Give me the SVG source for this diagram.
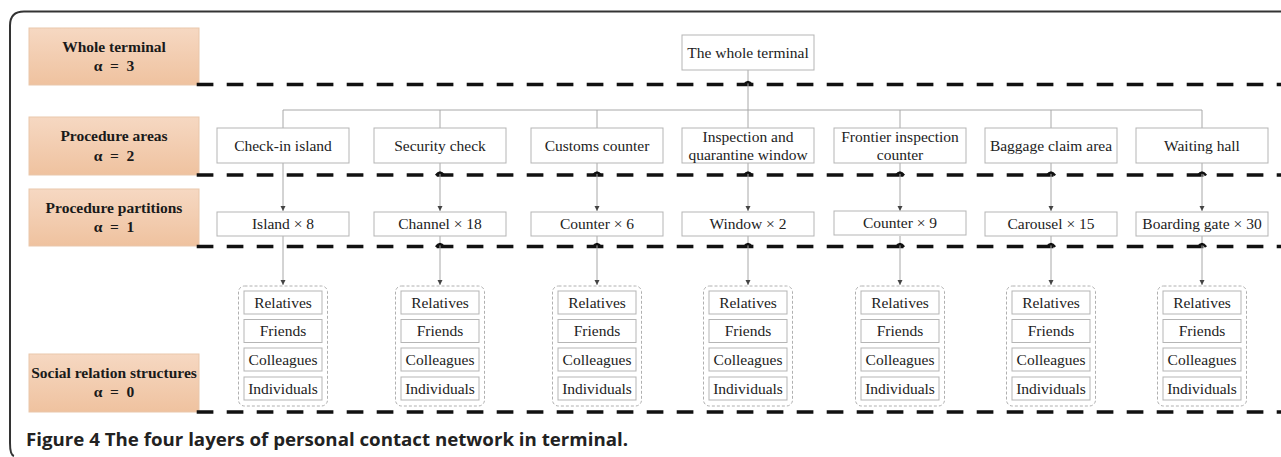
<svg xmlns="http://www.w3.org/2000/svg" width="1281" height="457" viewBox="0 0 1281 457">
  <defs>
    <linearGradient id="layerFill" x1="0" y1="0" x2="0" y2="1">
      <stop offset="0" stop-color="#f6d8c2"/>
      <stop offset="1" stop-color="#efc29f"/>
    </linearGradient>
    <marker id="arrow" markerWidth="6" markerHeight="6" refX="5" refY="3" orient="auto" markerUnits="userSpaceOnUse">
      <path d="M0,0.5 L5,3 L0,5.5 Z" fill="#444"/>
    </marker>
    <style>
      .frame { fill: none; stroke: #333; stroke-width: 2; }
      .layer { fill: url(#layerFill); stroke: #e9c7ab; stroke-width: 1; }
      .layer-text { font-family: "Liberation Serif", "Times New Roman", serif; font-weight: bold; font-size: 15.5px; fill: #1a1a1a; text-anchor: middle; }
      .divider { stroke: #111; stroke-width: 3.5; stroke-dasharray: 16.7 13.3; fill: none; }
      .hop { stroke: #111; stroke-width: 2.5; fill: none; }
      .node { fill: #fff; stroke: #b5b5b5; stroke-width: 1; }
      .node-text { font-family: "Liberation Serif", "Times New Roman", serif; font-size: 15.5px; fill: #222; text-anchor: middle; }
      .group { fill: #fff; stroke: #b0b0b0; stroke-width: 1; stroke-dasharray: 3 2; }
      .item { fill: #fff; stroke: #b5b5b5; stroke-width: 1; }
      .item-text { font-family: "Liberation Serif", "Times New Roman", serif; font-size: 15.5px; fill: #222; text-anchor: middle; }
      .link { stroke: #a8a8a8; stroke-width: 1; fill: none; }
      .caption { font-family: "Open Sans", "Noto Sans", sans-serif; font-weight: bold; font-size: 17px; fill: #222; }
    </style>
  </defs>

  <rect width="1281" height="457" fill="#fff"/>

  <!-- outer frame (open on the right) -->
  <path class="frame" d="M1281,11.5 H24 Q10,11.5 10,25.5 V443 Q10,455 14,456"/>

  <!-- layer labels -->
  <g id="layer-3">
    <rect class="layer" x="29" y="28" width="170" height="57"/>
    <text class="layer-text" x="114" y="52">Whole terminal</text>
    <text class="layer-text" x="114" y="71">α &#160;= &#160;3</text>
  </g>
  <g id="layer-2">
    <rect class="layer" x="29" y="117" width="170" height="58"/>
    <text class="layer-text" x="114" y="141">Procedure areas</text>
    <text class="layer-text" x="114" y="161">α &#160;= &#160;2</text>
  </g>
  <g id="layer-1">
    <rect class="layer" x="29" y="189" width="170" height="57"/>
    <text class="layer-text" x="114" y="213">Procedure partitions</text>
    <text class="layer-text" x="114" y="232">α &#160;= &#160;1</text>
  </g>
  <g id="layer-0">
    <rect class="layer" x="29" y="354" width="170" height="58"/>
    <text class="layer-text" x="114" y="378">Social relation structures</text>
    <text class="layer-text" x="114" y="397">α &#160;= &#160;0</text>
  </g>

  <!-- layer dividers -->
  <g id="dividers">
    <line class="divider" x1="196.7" y1="84.5" x2="1281" y2="84.5"/>
    <line class="divider" x1="196.7" y1="175" x2="1281" y2="175"/>
    <line class="divider" x1="196.7" y1="246.5" x2="1281" y2="246.5"/>
    <line class="divider" x1="196.7" y1="412" x2="1281" y2="412"/>
  </g>

  <!-- connectors -->
  <g id="connectors">
    <path class="link" d="M748,70 V110"/>
    <path class="link" d="M283,128 V110 H1202 V128"/>
    <path class="link" d="M440,110 V128 M597,110 V128 M748,110 V128 M900,110 V128 M1051,110 V128"/>
    <path class="link" d="M283,163 V211" marker-end="url(#arrow)"/>
    <path class="link" d="M440,163 V211" marker-end="url(#arrow)"/>
    <path class="link" d="M597,163 V211" marker-end="url(#arrow)"/>
    <path class="link" d="M748,163 V211" marker-end="url(#arrow)"/>
    <path class="link" d="M900,163 V211" marker-end="url(#arrow)"/>
    <path class="link" d="M1051,163 V211" marker-end="url(#arrow)"/>
    <path class="link" d="M1202,163 V211" marker-end="url(#arrow)"/>
    <path class="link" d="M283,236 V285" marker-end="url(#arrow)"/>
    <path class="link" d="M440,236 V285" marker-end="url(#arrow)"/>
    <path class="link" d="M597,236 V285" marker-end="url(#arrow)"/>
    <path class="link" d="M748,236 V285" marker-end="url(#arrow)"/>
    <path class="link" d="M900,236 V285" marker-end="url(#arrow)"/>
    <path class="link" d="M1051,236 V285" marker-end="url(#arrow)"/>
    <path class="link" d="M1202,236 V285" marker-end="url(#arrow)"/>
    <!-- line jumps where connectors cross dividers -->
    <path class="hop" d="M744,85 Q748,79 752,85"/>
    <path class="hop" d="M436,175.5 Q440,169.5 444,175.5 M593,175.5 Q597,169.5 601,175.5 M744,175.5 Q748,169.5 752,175.5 M896,175.5 Q900,169.5 904,175.5 M1047,175.5 Q1051,169.5 1055,175.5 M1198,175.5 Q1202,169.5 1206,175.5"/>
    <path class="hop" d="M436,247 Q440,241 444,247 M593,247 Q597,241 601,247 M744,247 Q748,241 752,247 M896,247 Q900,241 904,247 M1047,247 Q1051,241 1055,247 M1198,247 Q1202,241 1206,247"/>
  </g>

  <!-- top node -->
  <g id="whole-terminal">
    <rect class="node" x="682" y="35" width="132" height="35"/>
    <text class="node-text" x="748" y="57.5">The whole terminal</text>
  </g>

  <!-- procedure areas -->
  <g id="area-checkin"><rect class="node" x="217" y="128" width="132" height="35"/><text class="node-text" x="283" y="150.5">Check-in island</text></g>
  <g id="area-security"><rect class="node" x="374" y="128" width="132" height="35"/><text class="node-text" x="440" y="150.5">Security check</text></g>
  <g id="area-customs"><rect class="node" x="531" y="128" width="132" height="35"/><text class="node-text" x="597" y="150.5">Customs counter</text></g>
  <g id="area-inspection"><rect class="node" x="682" y="128" width="132" height="35"/><text class="node-text" x="748" y="142">Inspection and</text><text class="node-text" x="748" y="159.5">quarantine window</text></g>
  <g id="area-frontier"><rect class="node" x="834" y="128" width="132" height="35"/><text class="node-text" x="900" y="142">Frontier inspection</text><text class="node-text" x="900" y="159.5">counter</text></g>
  <g id="area-baggage"><rect class="node" x="985" y="128" width="132" height="35"/><text class="node-text" x="1051" y="150.5">Baggage claim area</text></g>
  <g id="area-waiting"><rect class="node" x="1136" y="128" width="132" height="35"/><text class="node-text" x="1202" y="150.5">Waiting hall</text></g>

  <!-- procedure partitions -->
  <g id="part-island"><rect class="node" x="217" y="212" width="132" height="24"/><text class="node-text" x="283" y="229">Island × 8</text></g>
  <g id="part-channel"><rect class="node" x="374" y="212" width="132" height="24"/><text class="node-text" x="440" y="229">Channel × 18</text></g>
  <g id="part-counter6"><rect class="node" x="531" y="212" width="132" height="24"/><text class="node-text" x="597" y="229">Counter × 6</text></g>
  <g id="part-window"><rect class="node" x="682" y="212" width="132" height="24"/><text class="node-text" x="748" y="229">Window × 2</text></g>
  <g id="part-counter9"><rect class="node" x="834" y="211" width="132" height="24"/><text class="node-text" x="900" y="228">Counter × 9</text></g>
  <g id="part-carousel"><rect class="node" x="985" y="212" width="132" height="24"/><text class="node-text" x="1051" y="229">Carousel × 15</text></g>
  <g id="part-gate"><rect class="node" x="1136" y="212" width="132" height="24"/><text class="node-text" x="1202" y="229">Boarding gate × 30</text></g>

  <!-- social relation structures -->
  <g id="social-1" transform="translate(283,0)">
    <rect class="group" x="-44.5" y="286" width="89" height="120" rx="6"/>
    <rect class="item" x="-39" y="291" width="78" height="23"/><text class="item-text" x="0" y="307.5">Relatives</text>
    <rect class="item" x="-39" y="319.5" width="78" height="23"/><text class="item-text" x="0" y="336">Friends</text>
    <rect class="item" x="-39" y="348" width="78" height="23"/><text class="item-text" x="0" y="364.5">Colleagues</text>
    <rect class="item" x="-39" y="377" width="78" height="23"/><text class="item-text" x="0" y="393.5">Individuals</text>
  </g>
  <g id="social-2" transform="translate(440,0)">
    <rect class="group" x="-44.5" y="286" width="89" height="120" rx="6"/>
    <rect class="item" x="-39" y="291" width="78" height="23"/><text class="item-text" x="0" y="307.5">Relatives</text>
    <rect class="item" x="-39" y="319.5" width="78" height="23"/><text class="item-text" x="0" y="336">Friends</text>
    <rect class="item" x="-39" y="348" width="78" height="23"/><text class="item-text" x="0" y="364.5">Colleagues</text>
    <rect class="item" x="-39" y="377" width="78" height="23"/><text class="item-text" x="0" y="393.5">Individuals</text>
  </g>
  <g id="social-3" transform="translate(597,0)">
    <rect class="group" x="-44.5" y="286" width="89" height="120" rx="6"/>
    <rect class="item" x="-39" y="291" width="78" height="23"/><text class="item-text" x="0" y="307.5">Relatives</text>
    <rect class="item" x="-39" y="319.5" width="78" height="23"/><text class="item-text" x="0" y="336">Friends</text>
    <rect class="item" x="-39" y="348" width="78" height="23"/><text class="item-text" x="0" y="364.5">Colleagues</text>
    <rect class="item" x="-39" y="377" width="78" height="23"/><text class="item-text" x="0" y="393.5">Individuals</text>
  </g>
  <g id="social-4" transform="translate(748,0)">
    <rect class="group" x="-44.5" y="286" width="89" height="120" rx="6"/>
    <rect class="item" x="-39" y="291" width="78" height="23"/><text class="item-text" x="0" y="307.5">Relatives</text>
    <rect class="item" x="-39" y="319.5" width="78" height="23"/><text class="item-text" x="0" y="336">Friends</text>
    <rect class="item" x="-39" y="348" width="78" height="23"/><text class="item-text" x="0" y="364.5">Colleagues</text>
    <rect class="item" x="-39" y="377" width="78" height="23"/><text class="item-text" x="0" y="393.5">Individuals</text>
  </g>
  <g id="social-5" transform="translate(900,0)">
    <rect class="group" x="-44.5" y="286" width="89" height="120" rx="6"/>
    <rect class="item" x="-39" y="291" width="78" height="23"/><text class="item-text" x="0" y="307.5">Relatives</text>
    <rect class="item" x="-39" y="319.5" width="78" height="23"/><text class="item-text" x="0" y="336">Friends</text>
    <rect class="item" x="-39" y="348" width="78" height="23"/><text class="item-text" x="0" y="364.5">Colleagues</text>
    <rect class="item" x="-39" y="377" width="78" height="23"/><text class="item-text" x="0" y="393.5">Individuals</text>
  </g>
  <g id="social-6" transform="translate(1051,0)">
    <rect class="group" x="-44.5" y="286" width="89" height="120" rx="6"/>
    <rect class="item" x="-39" y="291" width="78" height="23"/><text class="item-text" x="0" y="307.5">Relatives</text>
    <rect class="item" x="-39" y="319.5" width="78" height="23"/><text class="item-text" x="0" y="336">Friends</text>
    <rect class="item" x="-39" y="348" width="78" height="23"/><text class="item-text" x="0" y="364.5">Colleagues</text>
    <rect class="item" x="-39" y="377" width="78" height="23"/><text class="item-text" x="0" y="393.5">Individuals</text>
  </g>
  <g id="social-7" transform="translate(1202,0)">
    <rect class="group" x="-44.5" y="286" width="89" height="120" rx="6"/>
    <rect class="item" x="-39" y="291" width="78" height="23"/><text class="item-text" x="0" y="307.5">Relatives</text>
    <rect class="item" x="-39" y="319.5" width="78" height="23"/><text class="item-text" x="0" y="336">Friends</text>
    <rect class="item" x="-39" y="348" width="78" height="23"/><text class="item-text" x="0" y="364.5">Colleagues</text>
    <rect class="item" x="-39" y="377" width="78" height="23"/><text class="item-text" x="0" y="393.5">Individuals</text>
  </g>

  <!-- caption -->
  <text class="caption" x="26" y="446" textLength="602" lengthAdjust="spacingAndGlyphs">Figure 4 The four layers of personal contact network in terminal.</text>
</svg>
